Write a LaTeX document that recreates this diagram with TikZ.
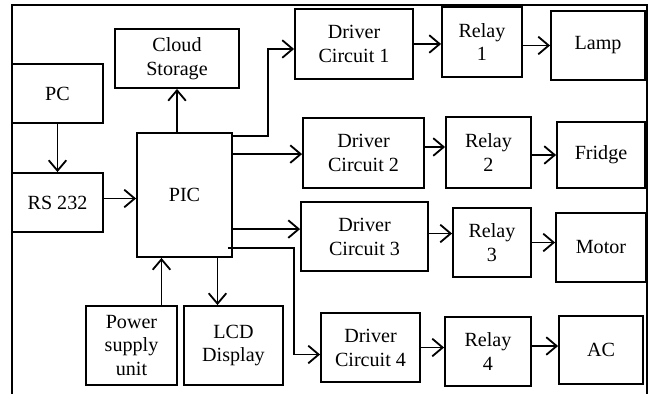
\documentclass[tikz,border=0pt]{standalone}
\usepackage{fontspec}
\setmainfont{Liberation Serif}
\usetikzlibrary{arrows.meta,calc}
\tikzset{
  blk/.style={draw, line width=1.3pt, align=center, inner sep=0pt, font=\fontsize{14.3}{17}\selectfont},
  arr/.style={line width=1.3pt, -{Straight Barb[length=2.6mm,width=4.4mm,line width=1.3pt]}}
}

\begin{document}
\begin{tikzpicture}[x=0.025cm, y=-0.025cm]
      \useasboundingbox (0,0) rectangle (652,394);
      \draw[line width=1.4pt] (12,394) -- (12,5) -- (647,5) -- (647,394);
      % left part
      \node[blk, minimum width=124*0.025cm, minimum height=59*0.025cm] (cloud) at (177,58.5) {Cloud\\Storage};
      \node[blk, minimum width=91*0.025cm, minimum height=59*0.025cm] (pc) at (57.5,93.5) {PC};
      \node[blk, minimum width=91*0.025cm, minimum height=59*0.025cm] (rs) at (57.5,202.5) {RS 232};
      \node[blk, minimum width=95*0.025cm, minimum height=124*0.025cm] (pic) at (184.5,195) {PIC};
      \node[blk, minimum width=91*0.025cm, minimum height=79*0.025cm] (psu) at (131.5,345.5) {Power\\supply\\unit};
      \node[blk, minimum width=99*0.025cm, minimum height=79*0.025cm] (lcd) at (233.5,345.5) {LCD\\Display};
      % drivers
      \node[blk, minimum width=118*0.025cm, minimum height=70*0.025cm] (dc1) at (354,44) {Driver\\Circuit 1};
      \node[blk, minimum width=121*0.025cm, minimum height=70*0.025cm] (dc2) at (363.5,153) {Driver\\Circuit 2};
      \node[blk, minimum width=127*0.025cm, minimum height=69*0.025cm] (dc3) at (364.5,236.5) {Driver\\Circuit 3};
      \node[blk, minimum width=99*0.025cm, minimum height=69*0.025cm] (dc4) at (370.5,347.5) {Driver\\Circuit 4};
      % relays
      \node[blk, minimum width=80*0.025cm, minimum height=70*0.025cm] (r1) at (482,42) {Relay\\1};
      \node[blk, minimum width=85*0.025cm, minimum height=71*0.025cm] (r2) at (488.5,152.5) {Relay\\2};
      \node[blk, minimum width=78*0.025cm, minimum height=69*0.025cm] (r3) at (492,242.5) {Relay\\3};
      \node[blk, minimum width=86*0.025cm, minimum height=69*0.025cm] (r4) at (488,351.5) {Relay\\4};
      % loads
      \node[blk, minimum width=94*0.025cm, minimum height=69*0.025cm] (lamp) at (598,45.5) {Lamp};
      \node[blk, minimum width=88*0.025cm, minimum height=66*0.025cm] (fridge) at (601,155) {Fridge};
      \node[blk, minimum width=90*0.025cm, minimum height=69*0.025cm] (motor) at (601,247.5) {Motor};
      \node[blk, minimum width=84*0.025cm, minimum height=68*0.025cm] (ac) at (601,350) {AC};
      % arrows round the PIC
      \draw[arr] (pc) -- (rs);
      \draw[arr] ($(rs.east)+(0,-4)$) -- ($(rs.east -| pic.west)+(0,-4)$);
      \draw[arr] (pic.north -| cloud) -- (cloud);
      \coordinate (p1) at ($(psu.north)+(30,0)$);
      \draw[arr] (p1) -- (p1 |- pic.south);
      \coordinate (l1) at ($(lcd.north)+(-16,0)$);
      \draw[arr] (l1 |- pic.south) -- (l1);
      \draw[arr] ($(pic.north east)+(0,4)$) -- ++(35,0) |- ($(dc1.west)+(0,5)$);
      \draw[arr] ($(pic.north east)+(0,22)$) coordinate (p2) -- (p2 -| dc2.west);
      \draw[arr] ($(pic.north east)+(0,97)$) coordinate (p3) -- (p3 -| dc3.west);
      \draw[arr] ($(pic.south east)+(-5,-10)$) -- ++(66,0) |- ($(dc4.west)+(0,7)$);
      % drivers to relays to loads
      \draw[arr] (dc1.east) -- (dc1.east -| r1.west);
      \draw[arr] ($(dc2.east)+(0,-6)$) coordinate (d2) -- (d2 -| r2.west);
      \draw[arr] ($(dc3.east)+(0,-3)$) coordinate (d3) -- (d3 -| r3.west);
      \draw[arr] (dc4.east) -- (dc4.east -| r4.west);
      \draw[arr] (lamp.west -| r1.east) -- (lamp.west);
      \draw[arr] (fridge.west -| r2.east) -- (fridge.west);
      \draw[arr] (r3.east) -- (r3.east -| motor.west);
      \draw[arr] ($(ac.west -| r4.east)+(0,-4)$) -- ($(ac.west)+(0,-4)$);
\end{tikzpicture}
\end{document}
